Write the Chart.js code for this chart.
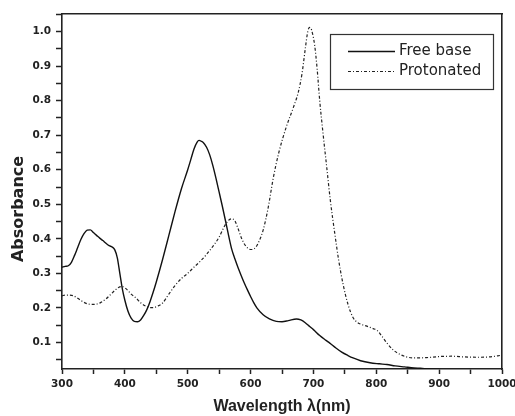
<!DOCTYPE html>
<html>
<head>
<meta charset="utf-8">
<script src="https://cdn.jsdelivr.net/npm/chart.js@4"></script>
<style>
  html, body { margin: 0; padding: 0; background: #fff; }
</style>
</head>
<body>
<canvas id="chart" width="515" height="416"></canvas>
<script>
// Free base (solid)
const freeBaseNm = [300, 305, 310, 315, 320, 325, 330, 335, 340, 345, 350, 355, 360, 365, 370, 375, 380, 384, 388, 392, 396, 400, 405, 410, 415, 420, 425, 430, 435, 440, 445, 450, 460, 470, 480, 490, 500, 505, 510, 515, 518, 522, 525, 530, 535, 540, 545, 550, 555, 560, 565, 570, 575, 580, 585, 590, 595, 600, 605, 610, 620, 630, 641, 650, 660, 673, 680, 687, 694, 700, 710, 720, 726, 735, 745, 755, 763, 775, 790, 805, 817, 830, 845, 860, 870, 885, 900, 950, 1000];
const freeBaseAbs = [0.318, 0.320, 0.322, 0.332, 0.352, 0.375, 0.398, 0.415, 0.425, 0.426, 0.418, 0.410, 0.402, 0.395, 0.387, 0.380, 0.376, 0.368, 0.345, 0.300, 0.255, 0.222, 0.190, 0.170, 0.161, 0.160, 0.165, 0.178, 0.195, 0.218, 0.245, 0.275, 0.340, 0.410, 0.480, 0.545, 0.600, 0.630, 0.660, 0.680, 0.685, 0.682, 0.678, 0.665, 0.643, 0.612, 0.575, 0.535, 0.495, 0.453, 0.410, 0.370, 0.342, 0.317, 0.294, 0.272, 0.252, 0.233, 0.215, 0.200, 0.180, 0.168, 0.161, 0.160, 0.163, 0.168, 0.165, 0.157, 0.146, 0.137, 0.120, 0.106, 0.098, 0.085, 0.072, 0.062, 0.055, 0.047, 0.041, 0.038, 0.036, 0.032, 0.029, 0.026, 0.025, 0.023, 0.022, 0.021, 0.020];

// Protonated (dash-dot)
const protNm = [300, 305, 310, 318, 325, 333, 340, 349, 355, 362, 370, 378, 385, 390, 395, 400, 405, 410, 418, 425, 432, 440, 445, 452, 460, 470, 480, 490, 500, 510, 520, 530, 540, 550, 558, 564, 570, 575, 580, 586, 592, 598, 602, 608, 614, 620, 628, 636, 645, 657, 668, 676, 682, 687, 691, 694, 697, 702, 706, 710, 715, 721, 727, 734, 740, 747, 755, 763, 770, 778, 785, 795, 801, 808, 817, 827, 838, 848, 860, 880, 900, 920, 940, 960, 980, 1000];
const protAbs = [0.235, 0.237, 0.237, 0.235, 0.228, 0.218, 0.212, 0.210, 0.211, 0.216, 0.226, 0.240, 0.252, 0.259, 0.262, 0.258, 0.250, 0.240, 0.228, 0.215, 0.206, 0.201, 0.201, 0.205, 0.214, 0.240, 0.265, 0.285, 0.300, 0.318, 0.335, 0.355, 0.378, 0.405, 0.435, 0.452, 0.458, 0.452, 0.430, 0.400, 0.380, 0.370, 0.369, 0.375, 0.395, 0.425, 0.490, 0.575, 0.650, 0.725, 0.780, 0.825, 0.880, 0.950, 1.000, 1.012, 1.005, 0.960, 0.890, 0.800, 0.710, 0.610, 0.510, 0.415, 0.340, 0.270, 0.210, 0.172, 0.158, 0.151, 0.147, 0.140, 0.135, 0.120, 0.098, 0.078, 0.065, 0.058, 0.055, 0.056, 0.059, 0.060, 0.058, 0.057, 0.058, 0.063];

const seriesLabels = ['Free base', 'Protonated'];
const xTicks = [300, 400, 500, 600, 700, 800, 900, 1000];
const xMinorTicks = [350, 450, 550, 650, 750, 850, 950];
const yTicks = [0.1, 0.2, 0.3, 0.4, 0.5, 0.6, 0.7, 0.8, 0.9, 1.0];
const yMinorTicks = [0.05, 0.15, 0.25, 0.35, 0.45, 0.55, 0.65, 0.75, 0.85, 0.95, 1.05];
const xTitle = 'Wavelength λ(nm)';
const yTitle = 'Absorbance';

const ink = '#222';
const tickFont = { family: 'DejaVu Sans', size: 10.5, weight: 'bold' };

function pts(xs, ys) {
  return xs.map((x, i) => ({ x, y: ys[i] }));
}

function isMajor(list, v) {
  return list.some(t => Math.abs(t - v) < 1e-6);
}

// y title and boxed legend inside the plot
const extras = {
  id: 'extras',
  afterDraw(chart) {
    const ctx = chart.ctx;
    ctx.save();
    ctx.fillStyle = ink;
    ctx.font = 'bold 16px "DejaVu Sans"';
    ctx.textAlign = 'center';
    ctx.textBaseline = 'middle';
    ctx.translate(19, 209);
    ctx.rotate(-Math.PI / 2);
    ctx.fillText(yTitle, 0, 0);
    ctx.restore();

    ctx.save();
    ctx.strokeStyle = '#333';
    ctx.lineWidth = 1.2;
    ctx.strokeRect(330.5, 34.5, 163, 55);
    ctx.font = '15px "DejaVu Sans"';
    ctx.textBaseline = 'middle';
    ctx.fillStyle = ink;
    chart.data.datasets.forEach((ds, i) => {
      const y = 51 + i * 20;
      ctx.beginPath();
      ctx.setLineDash(ds.borderDash || []);
      ctx.lineWidth = ds.borderWidth;
      ctx.strokeStyle = ds.borderColor;
      ctx.moveTo(348, y + 0.5);
      ctx.lineTo(395, y + 0.5);
      ctx.stroke();
      ctx.setLineDash([]);
      ctx.fillText(ds.label, 399, y);
    });
    ctx.restore();
  }
};

new Chart(document.getElementById('chart'), {
  type: 'line',
  data: {
    datasets: [
      {
        label: seriesLabels[0],
        data: pts(freeBaseNm, freeBaseAbs),
        borderColor: '#111',
        borderWidth: 1.4,
        pointRadius: 0,
        cubicInterpolationMode: 'monotone',
        fill: false,
      },
      {
        label: seriesLabels[1],
        data: pts(protNm, protAbs),
        borderColor: '#222',
        borderWidth: 1.2,
        borderDash: [3, 2, 1, 2],
        pointRadius: 0,
        cubicInterpolationMode: 'monotone',
        fill: false,
      }
    ]
  },
  options: {
    responsive: false,
    animation: false,
    devicePixelRatio: 1,
    layout: { padding: { top: 14, right: 13, left: 0, bottom: 0 } },
    plugins: { legend: { display: false }, tooltip: { enabled: false } },
    scales: {
      x: {
        type: 'linear',
        position: 'bottom',
        min: 300,
        max: 1000,
        afterBuildTicks: s => {
          s.ticks = [...xTicks, ...xMinorTicks].sort((a, b) => a - b).map(v => ({ value: v }));
        },
        afterFit: s => { s.height = 47; s.paddingLeft = 0; s.paddingRight = 0; },
        ticks: {
          autoSkip: false,
          maxRotation: 0,
          padding: 4,
          color: ink,
          font: tickFont,
          callback: v => isMajor(xTicks, v) ? String(v) : ''
        },
        grid: { drawOnChartArea: false, tickLength: 5, tickColor: ink, tickWidth: 1.5 },
        border: { color: ink, width: 1.6 },
        title: {
          display: true,
          text: xTitle,
          color: ink,
          font: { family: 'Liberation Sans', size: 16, weight: 'bold' },
          padding: { top: 0, bottom: 0 }
        }
      },
      y: {
        type: 'linear',
        position: 'left',
        min: 0.023,
        max: 1.051,
        afterBuildTicks: s => {
          s.ticks = [...yTicks, ...yMinorTicks].sort((a, b) => a - b).map(v => ({ value: v }));
        },
        afterFit: s => { s.width = 62; s.paddingTop = 0; s.paddingBottom = 0; },
        ticks: {
          autoSkip: false,
          padding: 5,
          color: ink,
          font: tickFont,
          callback: v => isMajor(yTicks, v) ? v.toFixed(1) : ''
        },
        grid: { drawOnChartArea: false, tickLength: 6, tickColor: ink, tickWidth: 1.5 },
        border: { color: ink, width: 1.6 }
      },
      x2: {
        type: 'linear',
        position: 'top',
        min: 300,
        max: 1000,
        ticks: { display: false },
        grid: { display: false },
        border: { color: ink, width: 1.6 },
        afterFit: s => { s.height = 0; s.paddingLeft = 0; s.paddingRight = 0; }
      },
      y2: {
        type: 'linear',
        position: 'right',
        min: 0.023,
        max: 1.051,
        ticks: { display: false },
        grid: { display: false },
        border: { color: ink, width: 1.6 },
        afterFit: s => { s.width = 0; s.paddingTop = 0; s.paddingBottom = 0; }
      }
    }
  },
  plugins: [extras]
});
</script>
</body>
</html>
